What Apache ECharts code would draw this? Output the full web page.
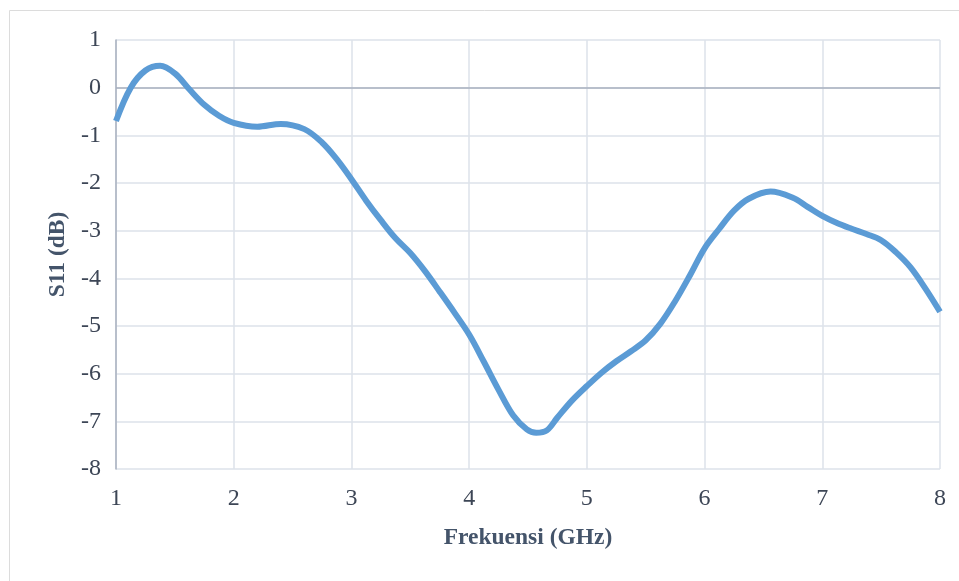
<!DOCTYPE html>
<html>
<head>
<meta charset="utf-8">
<script src="https://cdn.jsdelivr.net/npm/echarts@6/dist/echarts.min.js"></script>
<style>
html,body{margin:0;padding:0;background:#fff;}
#chart{width:959px;height:581px;}
</style>
</head>
<body>
<div id="chart"></div>
<script>
var freq = [1, 1.125, 1.25, 1.375, 1.5, 1.625, 1.75, 1.875, 2, 2.2, 2.4, 2.6, 2.75, 2.875, 3, 3.125, 3.25, 3.375, 3.5, 3.625, 3.75, 3.875, 4, 4.125, 4.25, 4.375, 4.49, 4.57, 4.66, 4.75, 4.875, 5, 5.125, 5.25, 5.375, 5.5, 5.625, 5.75, 5.875, 6, 6.125, 6.25, 6.375, 6.56, 6.75, 6.875, 7, 7.125, 7.25, 7.375, 7.5, 7.625, 7.75, 7.875, 8];
var s11 = [-0.70, 0.00, 0.36, 0.46, 0.30, -0.04, -0.36, -0.59, -0.74, -0.82, -0.76, -0.87, -1.15, -1.50, -1.92, -2.37, -2.78, -3.16, -3.47, -3.85, -4.28, -4.72, -5.18, -5.75, -6.34, -6.88, -7.17, -7.24, -7.19, -6.92, -6.56, -6.26, -5.98, -5.74, -5.53, -5.30, -4.95, -4.48, -3.94, -3.37, -2.96, -2.58, -2.33, -2.18, -2.31, -2.50, -2.69, -2.84, -2.96, -3.07, -3.20, -3.45, -3.77, -4.21, -4.70];
var xTicks = [1, 2, 3, 4, 5, 6, 7, 8];
var yTicks = [1, 0, -1, -2, -3, -4, -5, -6, -7, -8];
var xTitle = 'Frekuensi (GHz)';
var yTitle = 'S11 (dB)';

var data = freq.map(function (f, i) { return [f, s11[i]]; });
var chart = echarts.init(document.getElementById('chart'), null, {renderer: 'canvas'});
var font = '"Liberation Serif", "Times New Roman", serif';
chart.setOption({
  animation: false,
  backgroundColor: '#ffffff',
  textStyle: {fontFamily: font, fontSize: 24, color: '#3d4656'},
  graphic: [{
    type: 'rect',
    shape: {x: 9.5, y: 10.5, width: 980, height: 600},
    style: {fill: 'none', stroke: '#dcdcdc', lineWidth: 1}
  }],
  grid: {left: 116, right: 19, top: 40, bottom: 112},
  xAxis: {
    type: 'value',
    min: xTicks[0], max: xTicks[xTicks.length - 1], interval: 1,
    name: xTitle, nameLocation: 'middle', nameGap: 57,
    nameTextStyle: {fontFamily: font, fontSize: 23.5, fontWeight: 'bold', color: '#44546a'},
    axisLine: {show: false},
    axisTick: {show: false},
    axisLabel: {fontFamily: font, fontSize: 24, color: '#3d4656', margin: 18},
    splitLine: {show: true, lineStyle: {color: '#dde2ea', width: 1.5}}
  },
  yAxis: {
    type: 'value',
    min: yTicks[yTicks.length - 1], max: yTicks[0], interval: 1,
    name: yTitle, nameLocation: 'middle', nameGap: 46,
    nameTextStyle: {fontFamily: font, fontSize: 23.5, fontWeight: 'bold', color: '#44546a'},
    axisLine: {show: true, lineStyle: {color: '#a9b1bf', width: 1.5}},
    axisTick: {show: false},
    axisLabel: {fontFamily: font, fontSize: 24, color: '#3d4656', margin: 15},
    splitLine: {show: true, lineStyle: {color: '#dde2ea', width: 1.5}}
  },
  series: [{
    type: 'line',
    data: data,
    smooth: 0.35,
    showSymbol: false,
    lineStyle: {color: '#5b9bd5', width: 6},
    z: 5,
    markLine: {
      silent: true,
      symbol: ['none', 'none'],
      label: {show: false},
      lineStyle: {color: '#a9b1bf', width: 1.5, type: 'solid'},
      z: 3,
      data: [{yAxis: 0}]
    }
  }]
});
</script>
</body>
</html>
